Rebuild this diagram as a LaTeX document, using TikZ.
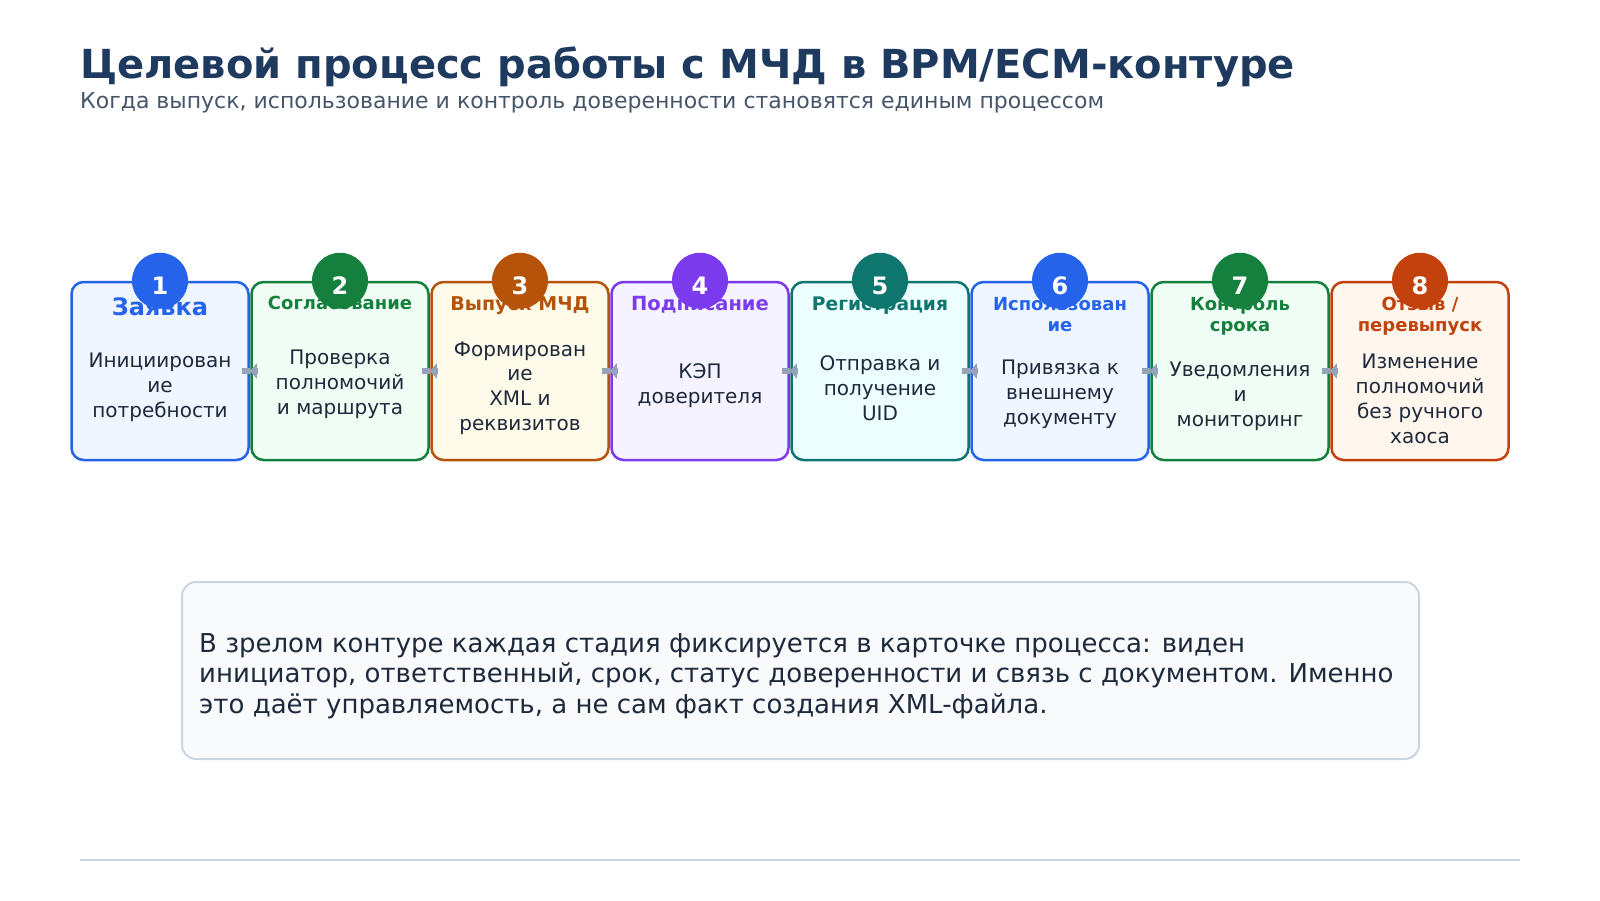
\documentclass[tikz,border=0pt]{standalone}
\usepackage{fontspec}
\setmainfont{DejaVu Sans}
\usetikzlibrary{arrows.meta}

\definecolor{headink}{HTML}{1E3A5F}
\definecolor{subink}{HTML}{475569}
\definecolor{bodyink}{HTML}{1E293B}
\definecolor{flowgray}{HTML}{94A3B8}
\definecolor{rulegray}{HTML}{CBD5E1}
\definecolor{notefill}{HTML}{F8FAFC}
\definecolor{cBlue}{HTML}{2563EB}    \definecolor{fBlue}{HTML}{EFF6FF}
\definecolor{cGreen}{HTML}{15803D}   \definecolor{fGreen}{HTML}{F0FDF4}
\definecolor{cAmber}{HTML}{B45309}   \definecolor{fAmber}{HTML}{FFFBEB}
\definecolor{cViolet}{HTML}{7C3AED}  \definecolor{fViolet}{HTML}{F5F3FF}
\definecolor{cTeal}{HTML}{0F766E}    \definecolor{fTeal}{HTML}{ECFEFF}
\definecolor{cRust}{HTML}{C2410C}    \definecolor{fRust}{HTML}{FFF7ED}

\newcommand{\fsz}[2]{\fontsize{#1}{#2}\selectfont}

\tikzset{
  card/.style={draw=c#1, fill=f#1, line width=2.5pt, rounded corners=12pt,
    minimum width=177pt, minimum height=178pt, inner sep=0pt},
  badge/.style={circle, fill=c#1, minimum size=56pt, inner sep=0pt,
    text height=26.5pt, text depth=0pt,
    text=white, font=\bfseries\fsz{24}{24}},
  cardtitle/.style={text=c#1, align=center, inner sep=0pt},
  cardbody/.style={text=bodyink, align=center, inner sep=0pt, font=\fsz{20}{24.8}},
  flow/.style={draw=flowgray, line width=6pt, -{Triangle[length=7pt,width=15pt]}},
  flowstub/.style={draw=flowgray, line width=6pt},
}

\begin{document}
\begin{tikzpicture}[x=1pt, y=-1pt]
  \useasboundingbox (0,0) rectangle (1600,900);

  % Heading
  \node[anchor=base west, inner sep=0pt, text=headink, font=\bfseries\fsz{40}{40}] (head) at (80,78)
    {Целевой процесс работы с МЧД в BPM/ECM-контуре};
  \node[anchor=base west, inner sep=0pt, text=subink, font=\fsz{22}{22}] (subhead) at (80,108)
    {Когда выпуск, использование и контроль доверенности становятся единым процессом};

  % Cards
  \node[card=Blue]   (c1) at (160,371) {};
  \node[card=Green]  (c2) at (340,371) {};
  \node[card=Amber]  (c3) at (520,371) {};
  \node[card=Violet] (c4) at (700,371) {};
  \node[card=Teal]   (c5) at (880,371) {};
  \node[card=Blue]   (c6) at (1060,371) {};
  \node[card=Green]  (c7) at (1240,371) {};
  \node[card=Rust]   (c8) at (1420,371) {};

  % Card titles
  \node[cardtitle=Blue, font=\bfseries\fsz{24}{24}]     (t1) at (160,307) {Заявка};
  \node[cardtitle=Green, font=\bfseries\fsz{18}{21}]    (t2) at (340,303) {Согласование};
  \node[cardtitle=Amber, font=\bfseries\fsz{19}{21}]    (t3) at (520,306) {Выпуск МЧД};
  \node[cardtitle=Violet, font=\bfseries\fsz{19.5}{21}] (t4) at (700,305) {Подписание};
  \node[cardtitle=Teal, font=\bfseries\fsz{18.7}{21}]   (t5) at (880,306) {Регистрация};
  \node[cardtitle=Blue, font=\bfseries\fsz{18}{21}]     (t6) at (1060,315) {Использован\\ие};
  \node[cardtitle=Green, font=\bfseries\fsz{18}{21}]    (t7) at (1240,316) {Контроль\\срока};
  \node[cardtitle=Rust, font=\bfseries\fsz{18}{21}]     (t8) at (1420,316) {Отзыв /\\перевыпуск};

  % Card texts
  \node[cardbody] (d1) at (160,387) {Инициирован\\ие\\потребности};
  \node[cardbody] (d2) at (340,384) {Проверка\\полномочий\\и маршрута};
  \node[cardbody] (d3) at (520,388) {Формирован\\ие\\XML и\\реквизитов};
  \node[cardbody] (d4) at (700,386) {КЭП\\доверителя};
  \node[cardbody] (d5) at (880,388) {Отправка и\\получение\\UID};
  \node[cardbody] (d6) at (1060,394) {Привязка к\\внешнему\\документу};
  \node[cardbody] (d7) at (1240,396) {Уведомления\\и\\мониторинг};
  \node[cardbody] (d8) at (1420,399) {Изменение\\полномочий\\без ручного\\хаоса};

  % Step numbers
  \node[badge=Blue]   (n1) at (c1.north) {1};
  \node[badge=Green]  (n2) at (c2.north) {2};
  \node[badge=Amber]  (n3) at (c3.north) {3};
  \node[badge=Violet] (n4) at (c4.north) {4};
  \node[badge=Teal]   (n5) at (c5.north) {5};
  \node[badge=Blue]   (n6) at (c6.north) {6};
  \node[badge=Green]  (n7) at (c7.north) {7};
  \node[badge=Rust]   (n8) at (c8.north) {8};

  % Connectors
  \foreach \i/\j in {1/2,2/3,3/4,4/5,5/6,6/7,7/8}{
    \draw[flowstub] (c\i.east) -- ([xshift=-8pt]c\i.east);
    \draw[flow] ([xshift=8pt]c\j.west) -- (c\i.east);
  }

  % Note
  \node[draw=rulegray, fill=notefill, line width=2pt, rounded corners=14pt,
    minimum width=1237pt, minimum height=177pt] (note) at (800.5,670.5) {};
  \node[anchor=west, inner sep=0pt, text=bodyink, align=left, font=\fsz{26}{30.6}] (notetext) at (199,676)
    {В зрелом контуре каждая стадия фиксируется в карточке процесса: виден\\
     инициатор, ответственный, срок, статус доверенности и связь с документом. Именно\\
     это даёт управляемость, а не сам факт создания XML-файла.};

  % Footer rule
  \coordinate (ruleL) at (80,860);
  \coordinate (ruleR) at (1520,860);
  \draw[rulegray, line width=2pt] (ruleL) -- (ruleR);
\end{tikzpicture}
\end{document}
